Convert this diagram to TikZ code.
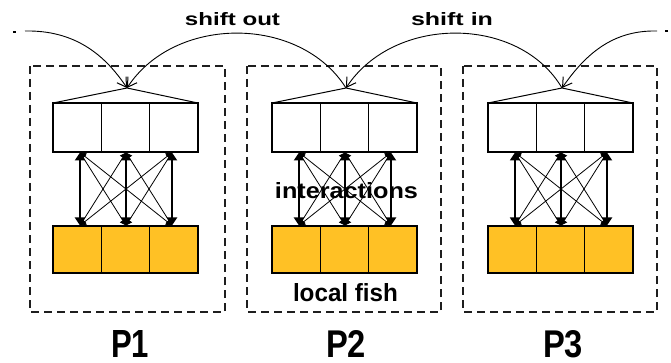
\documentclass[tikz,border=0pt]{standalone}
\usepackage{graphicx}
\usepackage{fontspec}
\setmainfont{Liberation Sans}
\usetikzlibrary{arrows.meta}
\definecolor{fishgold}{RGB}{255,193,37}
\definecolor{inkgray}{RGB}{30,30,30}
\newcommand{\fitlabel}[3]{\resizebox{#1pt}{#2pt}{\bfseries #3}}
\tikzset{
  procbox/.style={draw=inkgray, line width=1.3pt, dash pattern=on 8pt off 5pt},
  topcell/.style={draw=black, fill=white, line width=1.2pt, minimum width=48.3pt, minimum height=49pt, inner sep=0pt, outer sep=0pt},
  fishcell/.style={draw=black, fill=fishgold, line width=1.2pt, minimum width=48.3pt, minimum height=47pt, inner sep=0pt, outer sep=0pt},
  roof/.style={draw=black, line width=1pt},
  shiftarrow/.style={draw=black, line width=0.9pt, -{Straight Barb[length=9pt,width=11pt,line width=1pt]}},
  mainlink/.style={draw=black, line width=1.8pt, {Triangle[length=8pt,width=10pt]}-{Triangle[length=8pt,width=10pt]}},
  crosslink/.style={draw=black, line width=0.8pt, {Triangle[length=6pt,width=7pt]}-{Triangle[length=6pt,width=7pt]}},
  lbl/.style={inner sep=0pt, outer sep=0pt, text=black}
}
\begin{document}
\begin{tikzpicture}[x=1pt, y=-1pt]
\useasboundingbox (0,0) rectangle (671,363);
\fill[white] (0,0) rectangle (671,363);

% processor frames
\draw[procbox] (30,66) rectangle (225,312);
\draw[procbox] (247,66) rectangle (441,312);
\draw[procbox] (463,66) rectangle (657,312);

% cells, link end points and roof apex of each processor
\foreach \p/\L in {1/53,2/272,3/488} {
  \foreach \c/\i/\o in {a/0/27,b/1/73,c/2/119} {
    \node[topcell] (t\p\c) at (\L+24.15+48.3*\i, 127.5) {};
    \node[fishcell] (f\p\c) at (\L+24.15+48.3*\i, 249.5) {};
    \coordinate (u\p\c) at (\L+\o, 152.5);
    \coordinate (d\p\c) at (\L+\o, 225.5);
  }
  \coordinate (apex\p) at (\L+74, 88);
  \draw[roof] (t\p a.north west) -- (apex\p) -- (t\p c.north east);
  % all-to-all interactions between local and travelling fish
  \foreach \x in {a,b,c} {
    \foreach \y in {a,b,c} {
      \ifx\x\y\else \draw[crosslink] (u\p\x) -- (d\p\y); \fi
    }
  }
  \foreach \x in {a,b,c} { \draw[mainlink] (u\p\x) -- (d\p\x); }
}

% ring shift of the travelling fish
\coordinate (inL) at (25,31);
\coordinate (inLdot) at (13,32);
\coordinate (inR) at (657,31);
\coordinate (inRdot) at (668,31);
\draw[black, line width=1.2pt] (inLdot) -- ++(3,0);
\draw[black, line width=1.2pt] (inRdot) -- ++(-3,0);
\draw[shiftarrow] (inL) .. controls (75,30) and (105,55) .. (apex1);
\draw[shiftarrow] (apex2) .. controls (300,15) and (175,15) .. (apex1);
\draw[shiftarrow] (apex3) .. controls (519,15) and (394,15) .. (apex2);
\draw[shiftarrow] (inR) .. controls (612,30) and (585,55) .. (apex3);

% labels
\node[lbl] (shiftout) at (232.5,19.5) {\fitlabel{95}{13}{shift out}};
\node[lbl] (shiftin) at (452,19.5) {\fitlabel{82}{13}{shift in}};
\node[lbl] (inter) at (346.5,191) {\fitlabel{143}{16}{interactions}};
\node[lbl] (local) at (345.5,293) {\fitlabel{105}{18}{local fish}};
\node[lbl] (p1) at (130,344) {\fitlabel{38}{27}{P1}};
\node[lbl] (p2) at (346,344) {\fitlabel{40}{27}{P2}};
\node[lbl] (p3) at (563,344) {\fitlabel{40}{27}{P3}};
\end{tikzpicture}
\end{document}
